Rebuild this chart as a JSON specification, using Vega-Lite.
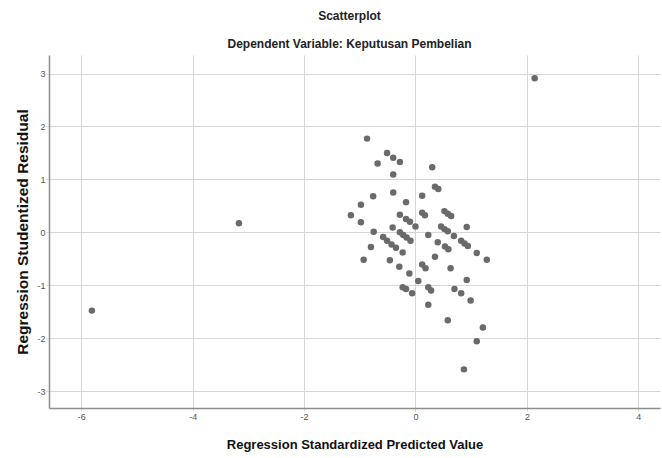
{
  "$schema": "https://vega.github.io/schema/vega-lite/v6.json",
  "width": 611,
  "height": 353,
  "autosize": {"type": "none"},
  "padding": {"left": 49, "top": 55, "right": 2, "bottom": 50},
  "background": "white",
  "title": {
    "text": "Scatterplot",
    "subtitle": "Dependent Variable: Keputusan Pembelian",
    "anchor": "middle",
    "font": "Liberation Sans",
    "fontSize": 12,
    "fontWeight": "bold",
    "color": "#222222",
    "subtitleFont": "Liberation Sans",
    "subtitleFontSize": 12,
    "subtitleFontWeight": "bold",
    "subtitleColor": "#222222",
    "subtitlePadding": 16,
    "offset": 4,
    "dx": -5
  },
  "data": {
    "values": [
      {"pred": -0.87, "resid": 1.77},
      {"pred": -0.51, "resid": 1.50},
      {"pred": -0.40, "resid": 1.41},
      {"pred": -0.28, "resid": 1.33},
      {"pred": -0.68, "resid": 1.30},
      {"pred": 0.30, "resid": 1.23},
      {"pred": -0.40, "resid": 1.09},
      {"pred": 0.35, "resid": 0.86},
      {"pred": 0.41, "resid": 0.82},
      {"pred": -0.40, "resid": 0.75},
      {"pred": -0.76, "resid": 0.68},
      {"pred": 0.12, "resid": 0.69},
      {"pred": -0.17, "resid": 0.57},
      {"pred": -0.98, "resid": 0.52},
      {"pred": -1.16, "resid": 0.32},
      {"pred": -0.98, "resid": 0.19},
      {"pred": -0.28, "resid": 0.33},
      {"pred": -0.17, "resid": 0.25},
      {"pred": -0.10, "resid": 0.20},
      {"pred": 0.00, "resid": 0.11},
      {"pred": 0.12, "resid": 0.37},
      {"pred": 0.17, "resid": 0.32},
      {"pred": 0.52, "resid": 0.40},
      {"pred": 0.58, "resid": 0.35},
      {"pred": 0.64, "resid": 0.31},
      {"pred": -0.41, "resid": 0.09},
      {"pred": 0.92, "resid": 0.10},
      {"pred": 0.46, "resid": 0.11},
      {"pred": 0.52, "resid": 0.06},
      {"pred": 0.58, "resid": 0.02},
      {"pred": 0.23, "resid": -0.05},
      {"pred": -0.75, "resid": 0.01},
      {"pred": -0.28, "resid": 0.00},
      {"pred": -0.22, "resid": -0.05},
      {"pred": -0.16, "resid": -0.10},
      {"pred": -0.09, "resid": -0.16},
      {"pred": -0.58, "resid": -0.09},
      {"pred": -0.51, "resid": -0.16},
      {"pred": -0.43, "resid": -0.23},
      {"pred": -0.35, "resid": -0.29},
      {"pred": 0.69, "resid": -0.07},
      {"pred": 0.82, "resid": -0.16},
      {"pred": 0.88, "resid": -0.21},
      {"pred": 0.94, "resid": -0.26},
      {"pred": 0.40, "resid": -0.19},
      {"pred": 0.53, "resid": -0.27},
      {"pred": 0.59, "resid": -0.32},
      {"pred": 1.10, "resid": -0.39},
      {"pred": 1.28, "resid": -0.52},
      {"pred": -0.80, "resid": -0.28},
      {"pred": -0.23, "resid": -0.38},
      {"pred": -0.93, "resid": -0.52},
      {"pred": -0.46, "resid": -0.53},
      {"pred": 0.35, "resid": -0.46},
      {"pred": -0.29, "resid": -0.65},
      {"pred": 0.12, "resid": -0.61},
      {"pred": 0.18, "resid": -0.68},
      {"pred": 0.63, "resid": -0.68},
      {"pred": -0.11, "resid": -0.78},
      {"pred": 0.05, "resid": -0.92},
      {"pred": 0.92, "resid": -0.90},
      {"pred": -0.23, "resid": -1.04},
      {"pred": -0.17, "resid": -1.07},
      {"pred": -0.06, "resid": -1.15},
      {"pred": 0.23, "resid": -1.04},
      {"pred": 0.28, "resid": -1.10},
      {"pred": 0.70, "resid": -1.07},
      {"pred": 0.82, "resid": -1.15},
      {"pred": 0.99, "resid": -1.29},
      {"pred": 0.23, "resid": -1.37},
      {"pred": 0.58, "resid": -1.66},
      {"pred": 1.21, "resid": -1.80},
      {"pred": 1.10, "resid": -2.06},
      {"pred": 0.87, "resid": -2.59},
      {"pred": -5.81, "resid": -1.48},
      {"pred": -3.17, "resid": 0.17},
      {"pred": 2.14, "resid": 2.91}
    ]
  },
  "mark": {"type": "circle", "size": 42, "color": "#6a6a6a", "opacity": 1},
  "encoding": {
    "x": {
      "field": "pred",
      "type": "quantitative",
      "scale": {"domain": [-6.58, 4.39], "nice": false, "zero": false},
      "axis": {
        "title": "Regression Standardized Predicted Value",
        "values": [-6, -4, -2, 0, 2, 4],
        "labelExpr": "datum.value + ''",
        "titleFont": "Liberation Sans",
        "titleFontSize": 13,
        "titleFontWeight": "bold",
        "titleColor": "#111111",
        "titlePadding": 17,
        "labelFont": "Liberation Sans",
        "labelFontSize": 9,
        "labelColor": "#555555",
        "labelPadding": 1,
        "domainColor": "#8c8c8c",
        "domainWidth": 1.5,
        "tickColor": "#d6d6d6",
        "tickSize": 3,
        "gridColor": "#d6d6d6",
        "gridWidth": 1
      }
    },
    "y": {
      "field": "resid",
      "type": "quantitative",
      "scale": {"domain": [-3.32, 3.35], "nice": false, "zero": false},
      "axis": {
        "title": "Regression Studentized Residual",
        "values": [-3, -2, -1, 0, 1, 2, 3],
        "labelExpr": "datum.value + ''",
        "titleFont": "Liberation Sans",
        "titleFontSize": 15.5,
        "titleFontWeight": "bold",
        "titleColor": "#111111",
        "titlePadding": 6,
        "labelFont": "Liberation Sans",
        "labelFontSize": 9,
        "labelColor": "#555555",
        "labelPadding": 1,
        "domainColor": "#8c8c8c",
        "domainWidth": 1.5,
        "tickColor": "#d6d6d6",
        "tickSize": 3,
        "gridColor": "#d6d6d6",
        "gridWidth": 1
      }
    }
  },
  "config": {"view": {"stroke": null}}
}
